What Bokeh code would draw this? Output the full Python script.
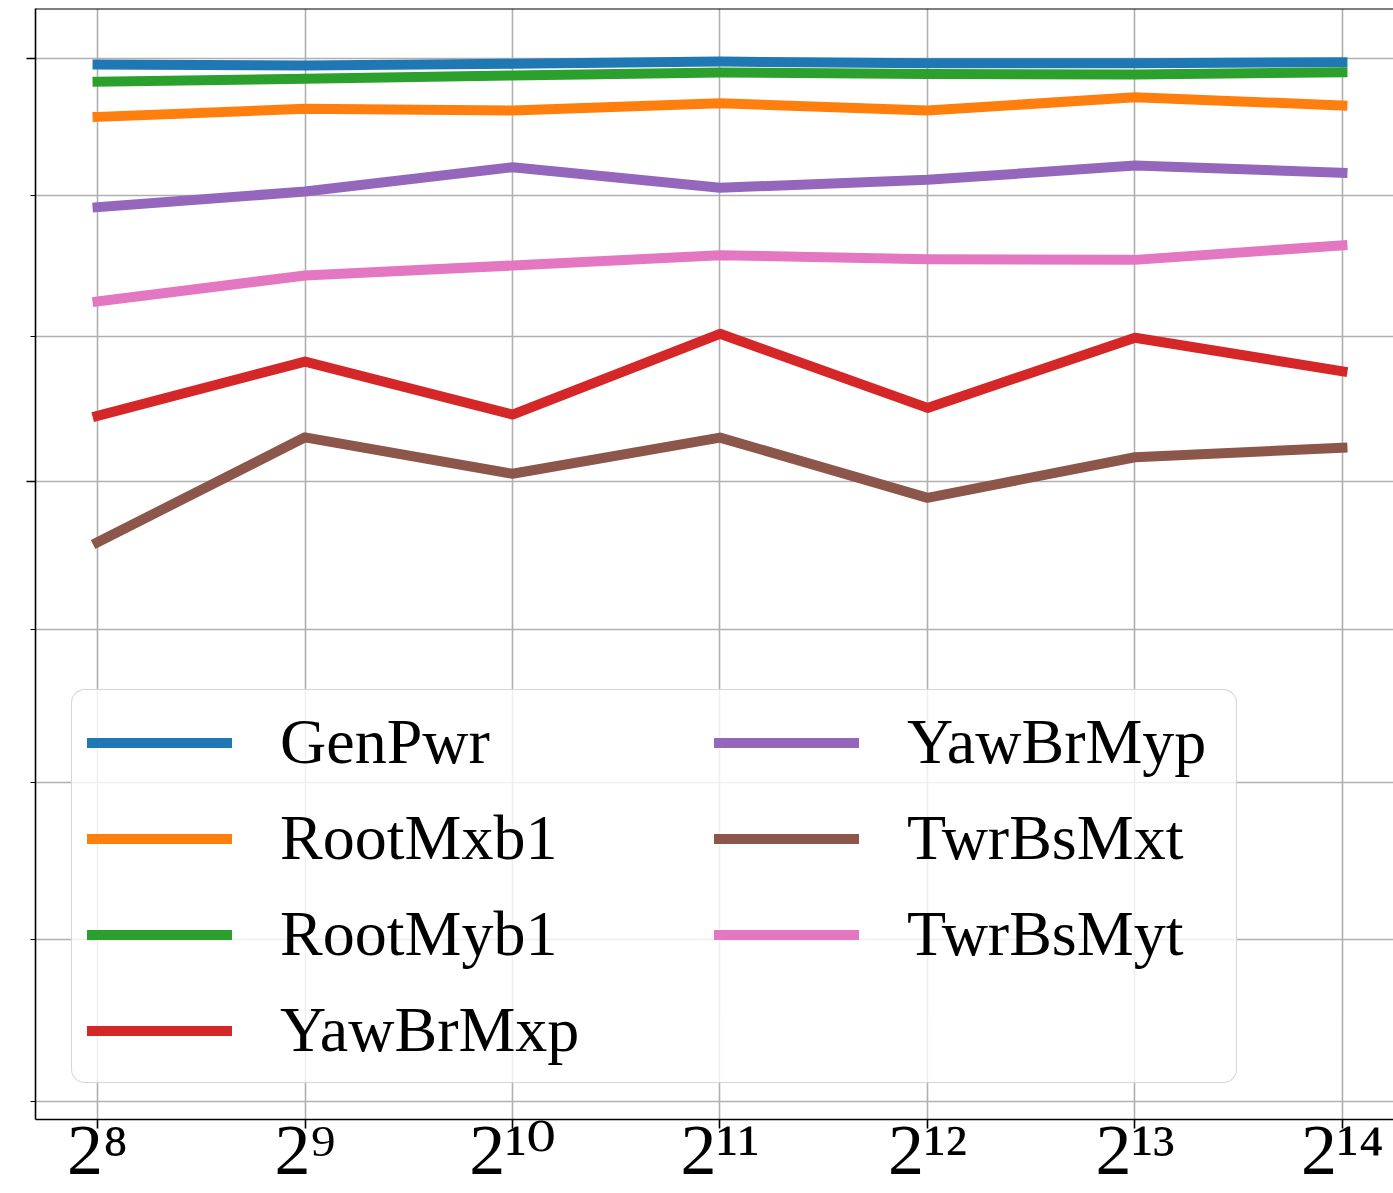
import math
from bokeh.plotting import figure
from bokeh.models import Range1d, FixedTicker, Legend, LegendItem, Span
from bokeh.embed import file_html
from bokeh.resources import INLINE

# ---- data ----
window_sizes = [256, 512, 1024, 2048, 4096, 8192, 16384]
tick_labels = ["2⁸", "2⁹", "2¹⁰", "2¹¹", "2¹²", "2¹³", "2¹⁴"]

series_names = ["GenPwr", "RootMxb1", "RootMyb1", "YawBrMxp",
                "YawBrMyp", "TwrBsMxt", "TwrBsMyt"]
gen_pwr    = [39.956, 39.948, 39.961, 39.978, 39.965, 39.965, 39.973]
root_mxb1  = [39.572, 39.631, 39.618, 39.672, 39.618, 39.716, 39.655]
root_myb1  = [39.829, 39.851, 39.875, 39.897, 39.887, 39.882, 39.899]
yaw_br_mxp = [37.449, 37.826, 37.458, 38.020, 37.504, 37.992, 37.758]
yaw_br_myp = [38.918, 39.031, 39.206, 39.058, 39.115, 39.218, 39.166]
twr_bs_mxt = [36.586, 37.301, 37.051, 37.299, 36.887, 37.164, 37.229]
twr_bs_myt = [38.247, 38.431, 38.502, 38.575, 38.546, 38.542, 38.646]

y_major_ticks = [37, 40]
y_minor_ticks = [33, 34, 35, 36, 38, 39]

# ---- styles ----
series_values = [gen_pwr, root_mxb1, root_myb1, yaw_br_mxp,
                 yaw_br_myp, twr_bs_mxt, twr_bs_myt]
colors = ["#1f77b4", "#ff7f0e", "#2ca02c", "#d62728",
          "#9467bd", "#8c564b", "#e377c2"]
SERIF = "Liberation Serif"
TICK_FONT = "'Liberation Serif', 'DejaVu Serif', serif"
GRID = "#b0b0b0"

x_lo, x_hi = 2 ** 7.701, 2 ** 14.246
y_lo, y_hi = 32.891, 40.371

p = figure(width=1393, height=1193,
           x_axis_type="log", y_axis_type="log",
           x_range=Range1d(x_lo, x_hi), y_range=Range1d(y_lo, y_hi),
           output_backend="svg", toolbar_location=None,
           min_border_left=35, min_border_right=0,
           min_border_top=8, min_border_bottom=74)
p.outline_line_color = None
p.background_fill_color = "white"
p.border_fill_color = "white"

# x axis
xa = p.xaxis[0]
xa.ticker = FixedTicker(ticks=window_sizes, minor_ticks=[])
xa.major_label_overrides = {v: t for v, t in zip(window_sizes, tick_labels)}
xa.major_label_text_font = TICK_FONT
xa.major_label_text_font_size = "72px"
xa.major_label_text_color = "black"
xa.major_label_standoff = -19
xa.axis_line_color = "black"
xa.axis_line_width = 1.6
xa.major_tick_line_color = "black"
xa.major_tick_line_width = 1.6
xa.major_tick_out = 9
xa.major_tick_in = 0
xa.minor_tick_line_color = None

# y axis (no labels in the reference)
ya = p.yaxis[0]
ya.ticker = FixedTicker(ticks=y_major_ticks, minor_ticks=y_minor_ticks)
ya.major_label_overrides = {v: "" for v in y_major_ticks}
ya.major_label_text_font_size = "0px"
ya.axis_line_color = "black"
ya.axis_line_width = 1.6
ya.major_tick_line_color = "black"
ya.major_tick_line_width = 1.6
ya.major_tick_out = 9
ya.major_tick_in = 0
ya.minor_tick_line_color = "black"
ya.minor_tick_line_width = 1.2
ya.minor_tick_out = 5
ya.minor_tick_in = 0

# grids
p.xgrid.grid_line_color = GRID
p.xgrid.grid_line_width = 1.6
p.ygrid.grid_line_color = GRID
p.ygrid.grid_line_width = 1.6
p.ygrid.minor_grid_line_color = GRID
p.ygrid.minor_grid_line_width = 1.6

# top spine
p.add_layout(Span(location=y_hi, dimension="width",
                  line_color="black", line_width=1.8))

# lines
renderers = []
for ys, c in zip(series_values, colors):
    r = p.line(window_sizes, ys, line_width=10, line_color=c,
               line_cap="square", line_join="round")
    renderers.append(r)

# legends (two columns)
common = dict(label_text_font=SERIF, label_text_font_size="64px",
              label_text_color="black",
              glyph_width=145, glyph_height=71, label_height=71,
              label_standoff=48, spacing=22, padding=15, margin=0)

leg1 = Legend(items=[LegendItem(label=series_names[i], renderers=[renderers[i]])
                     for i in range(4)],
              location=(36, 36), label_width=941,
              background_fill_color="white", background_fill_alpha=0.8,
              border_line_color="#cccccc", border_line_alpha=0.8,
              border_line_width=1.6, **common)
leg2 = Legend(items=[LegendItem(label=series_names[i], renderers=[renderers[i]])
                     for i in range(4, 7)],
              location=(679, 148), label_width=300,
              background_fill_alpha=0.0, border_line_color=None, **common)
try:
    leg1.border_radius = 14
except Exception:
    pass
p.add_layout(leg1, "center")
p.add_layout(leg2, "center")

open("out.html", "w").write(file_html(p, INLINE))
